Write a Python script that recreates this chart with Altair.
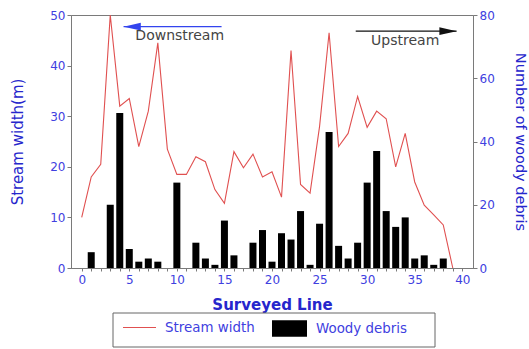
import altair as alt
import pandas as pd

# Survey data: one value per surveyed line (0-39)
surveyed_line = list(range(40))
stream_width = [10, 18, 20.5, 50, 32, 33.5, 24, 31, 44.5, 23.5,
                18.5, 18.5, 22, 21, 15.5, 12.8, 23, 19.8, 22.5, 18,
                19, 14, 43, 16.5, 14.8, 28, 46.5, 24, 26.6, 33.9,
                27.8, 31, 29.5, 20, 26.6, 17, 12.4, 10.5, 8.5, 0]
woody_debris = [0, 5, 0, 20, 49, 6, 2, 3, 2, 0,
                27, 0, 8, 3, 1, 15, 4, 0, 8, 12,
                2, 11, 9, 18, 1, 14, 43, 7, 3, 8,
                27, 37, 18, 13, 16, 3, 4, 1, 3, 0]
series_names = ["Stream width", "Woody debris"]

# Flow-direction notes (placed in surveyed-line / stream-width units)
direction_text = ["Downstream", "Upstream"]
direction_x = [10.3, 34.0]
direction_y = [45.1, 44.1]
arrow_x_start = [4.4, 28.8]
arrow_x_end = [14.7, 39.4]
arrow_y = [47.7, 46.8]
arrow_head_x = [5.3, 38.5]

BLUE_LABEL = "#4040e0"
BLUE_TITLE = "#2626cc"
GRAY = "#7a7a7a"
RED = "#e05050"
FONT = "DejaVu Sans"

width_df = pd.DataFrame({"line": surveyed_line, "width": stream_width,
                         "series": series_names[0]})
debris_df = pd.DataFrame({"line": surveyed_line, "debris": woody_debris,
                          "series": series_names[1]})

x_scale = alt.Scale(domain=[-0.6, 40.6], nice=False, zero=False)
x_axis = alt.Axis(values=list(range(0, 41)),
                  labelExpr="datum.value % 5 === 0 ? datum.label : ''",
                  labelOverlap=False, labelFlush=False,
                  tickSize=3, tickColor=GRAY, domainColor=GRAY, grid=False,
                  labelColor=BLUE_LABEL, labelFontSize=12, labelPadding=3,
                  title="Surveyed Line", titleColor=BLUE_TITLE, titleFontSize=15,
                  titleFontWeight="bold", titlePadding=12)

width_scale = alt.Scale(domain=[0, 50], nice=False)
width_axis = alt.Axis(orient="left", values=[0, 10, 20, 30, 40, 50],
                      tickSize=4, tickColor=GRAY, domainColor=GRAY,
                      grid=False, labelColor=BLUE_LABEL, labelFontSize=12,
                      labelPadding=2, title="Stream width(m)",
                      titleColor=BLUE_TITLE, titleFontSize=15,
                      titleFontWeight="normal", titlePadding=24)

legend_common = dict(orient="none", direction="horizontal", title=None,
                     labelFontSize=13.4, labelColor=BLUE_LABEL, padding=0)

line = alt.Chart(width_df).mark_line(strokeWidth=1.1).encode(
    x=alt.X("line:Q", scale=x_scale, axis=x_axis),
    y=alt.Y("width:Q", scale=width_scale, axis=width_axis),
    stroke=alt.Stroke("series:N",
                      scale=alt.Scale(domain=[series_names[0]], range=[RED]),
                      legend=alt.Legend(legendX=51, legendY=295,
                                        symbolType="stroke", symbolSize=1089,
                                        symbolStrokeWidth=1.2, labelOffset=8,
                                        **legend_common)),
)

bars = alt.Chart(debris_df).mark_bar(size=7).encode(
    x=alt.X("line:Q", scale=x_scale, axis=x_axis),
    y=alt.Y("debris:Q", scale=alt.Scale(domain=[0, 80], nice=False),
            axis=alt.Axis(orient="right", values=[0, 20, 40, 60, 80],
                          tickSize=4, tickColor=GRAY, domainColor=GRAY,
                          grid=False, labelColor=BLUE_LABEL, labelFontSize=12,
                          labelPadding=2, title="Number of woody debris",
                          titleColor=BLUE_TITLE, titleFontSize=14.5,
                          titleFontWeight="normal", titlePadding=18)),
    fill=alt.Fill("series:N",
                  scale=alt.Scale(domain=[series_names[1]], range=["#000000"]),
                  legend=alt.Legend(legendX=201, legendY=296,
                                    symbolType="M-1,-0.47H1V0.47H-1Z",
                                    symbolSize=1225, symbolStrokeWidth=0,
                                    labelOffset=9, **legend_common)),
)

# Frame drawn around the two legend entries
legend_box = alt.Chart(pd.DataFrame({"series": series_names[:1]})).mark_rect(
    fill="white", stroke="#666666", strokeWidth=1
).encode(x=alt.value(42), x2=alt.value(364), y=alt.value(298), y2=alt.value(332))

# Arrows and labels for the flow direction
notes = []
head_paths = ["M-1,0L1,-0.45L1,0.45Z", "M1,0L-1,-0.45L-1,0.45Z"]
arrow_colors = ["#3344ee", "#111111"]
for i in range(2):
    arrow_df = pd.DataFrame({"line": [arrow_x_start[i]], "x2": [arrow_x_end[i]],
                             "width": [arrow_y[i]], "hx": [arrow_head_x[i]],
                             "tx": [direction_x[i]], "ty": [direction_y[i]],
                             "label": [direction_text[i]]})
    base = alt.Chart(arrow_df)
    notes.append(base.mark_rule(strokeWidth=1.3, color=arrow_colors[i]).encode(
        x=alt.X("line:Q", scale=x_scale, axis=x_axis), x2="x2:Q",
        y=alt.Y("width:Q", scale=width_scale, axis=width_axis)))
    notes.append(base.mark_point(shape=head_paths[i], filled=True, size=300,
                                 opacity=1, color=arrow_colors[i]).encode(
        x=alt.X("hx:Q", scale=x_scale, axis=x_axis),
        y=alt.Y("width:Q", scale=width_scale, axis=width_axis)))
    notes.append(base.mark_text(fontSize=14, font=FONT, color="#444444",
                                align="center", baseline="alphabetic").encode(
        x=alt.X("tx:Q", scale=x_scale, axis=x_axis),
        y=alt.Y("ty:Q", scale=width_scale, axis=width_axis), text="label:N"))

left_group = alt.layer(line, *notes)

chart = alt.layer(legend_box, bars, left_group).resolve_scale(
    y="independent"
).properties(
    width=402, height=253,
    autosize=alt.AutoSizeParams(type="none"),
    padding={"left": 71, "top": 15, "right": 56, "bottom": 81},
).configure(font=FONT).configure_view(stroke=GRAY, strokeWidth=1)

chart.save("out.html", embed_options={"renderer": "svg", "actions": False})
